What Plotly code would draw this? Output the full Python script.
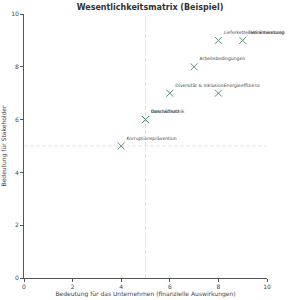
import plotly.graph_objects as go

themen = ["Lieferkettenverantwortung", "THG-Emissionen", "Arbeitsbedingungen",
          "Diversität & Inklusion", "Energieeffizienz", "Datenschutz", "Geschäftsethik",
          "Korruptionsprävention"]
finanziell = [8, 9, 7, 6, 8, 5, 5, 4]
stakeholder = [9, 9, 8, 7, 7, 6, 6, 5]

fig = go.Figure()
fig.add_trace(go.Scatter(
    x=finanziell, y=stakeholder, mode="markers+text", text=themen,
    textposition="top right", textfont=dict(size=4.5, color="#444", family="DejaVu Sans"),
    marker=dict(symbol="x-thin", size=7, line=dict(width=1, color="#5a9478"), color="#5a9478"),
    cliponaxis=False, showlegend=False))

fig.add_shape(type="line", x0=5, x1=5, y0=0, y1=10, xref="x", yref="y",
              line=dict(color="#d0d0d0", width=0.6, dash="4px,2px"), layer="below")
fig.add_shape(type="line", x0=0, x1=10, y0=5, y1=5, xref="x", yref="y",
              line=dict(color="#d0d0d0", width=0.6, dash="4px,2px"), layer="below")

axis_common = dict(range=[0, 10], showgrid=False, zeroline=False, showline=True, automargin=False,
                   linecolor="#555", linewidth=1, ticks="outside", ticklen=3, tickcolor="#555",
                   tickfont=dict(size=6, color="#444", family="DejaVu Sans"), dtick=2)
fig.update_xaxes(**axis_common, title=dict(text="Bedeutung für das Unternehmen (finanzielle Auswirkungen)",
                                          font=dict(size=6, color="#444", family="DejaVu Sans"), standoff=2))
fig.update_yaxes(**axis_common, title=dict(text="Bedeutung für Stakeholder",
                                          font=dict(size=6, color="#444", family="DejaVu Sans"), standoff=4))
fig.update_layout(
    width=300, height=300, margin=dict(l=24, r=33, t=14, b=22),
    paper_bgcolor="white", plot_bgcolor="white",
    title=dict(text="<b>Wesentlichkeitsmatrix (Beispiel)</b>", x=0.5, xanchor="center", y=0.985, yanchor="top",
               font=dict(size=8, color="#333", family="DejaVu Sans")))
fig.write_html("out.html")
